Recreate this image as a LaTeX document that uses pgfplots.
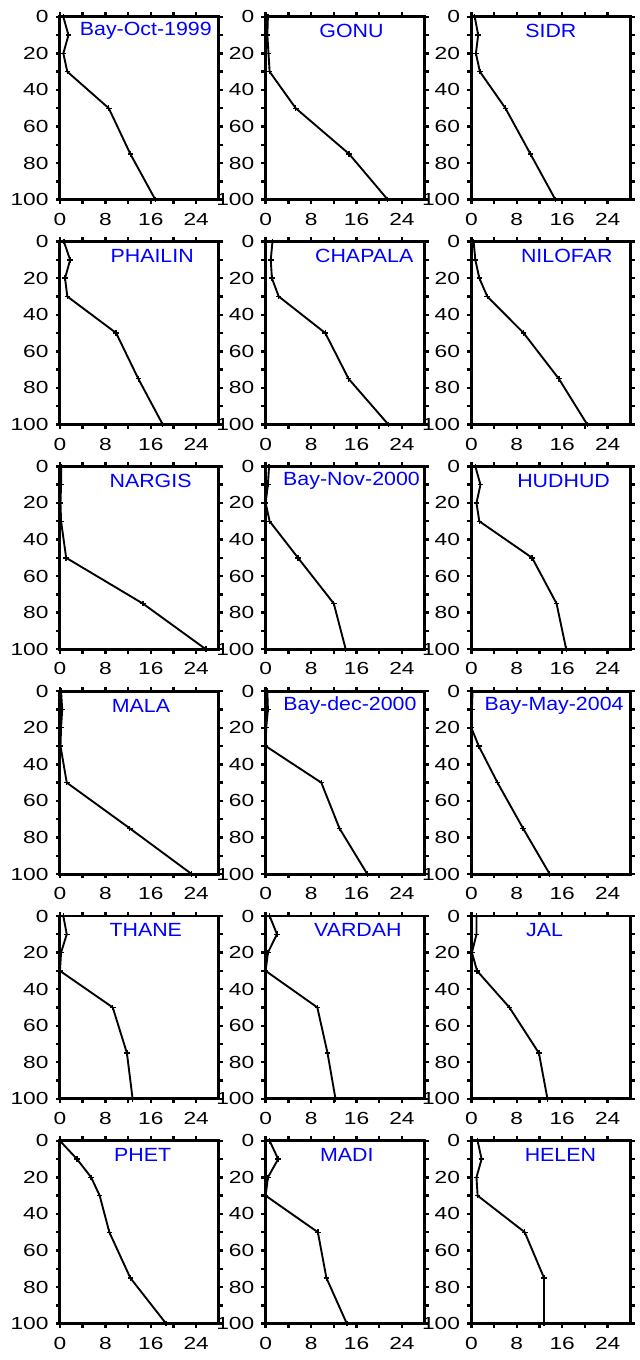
\documentclass[border=2pt]{standalone}
\usepackage{fontspec}
\setmainfont{Liberation Sans}
\newfontfamily\tickfont[FakeStretch=1.3]{Liberation Sans}
\newfontfamily\titlefont[FakeStretch=1.12]{Liberation Sans}
\usepackage{pgfplots}
\pgfplotsset{compat=1.18}

\pgfplotsset{
  prof/.style={
    scale only axis, width=80pt, height=92pt,
    xmin=0, xmax=28, ymin=0, ymax=100, y dir=reverse,
    xtick={0,8,16,24}, minor xtick={4,12,20},
    ytick={0,20,...,100}, minor ytick={10,30,...,90},
    tick align=outside, major tick length=2.2pt, minor tick length=2.2pt,
    tick style={line width=1.2pt, black},
    axis line style={line width=1.5pt},
    ticklabel style={font=\tickfont\fontsize{8.8}{9}\selectfont},
    xticklabel style={yshift=-1pt},
    /pgf/number format/assume math mode=true,
    anchor=north west, clip=false,
  },
  dat/.style={black, line width=0.95pt, mark=+, mark size=1.4pt, mark options={line width=0.7pt}},
}
% title inside the panel, #1 = horizontal position
\newcommand{\ttl}[2]{\node[text=blue, font=\titlefont\fontsize{9.6}{10}\selectfont] at (axis description cs:#1,0.922) {#2};}

\begin{document}
\begin{tikzpicture}
% ---- row 1
\begin{axis}[prof, at={(0pt,0pt)}]
\addplot[dat] coordinates {(0.6,0) (1.5,10) (0.6,20) (1.3,30) (8.6,50) (12.4,75) (16.8,100)};
\ttl{0.54}{Bay-Oct-1999}
\end{axis}
\begin{axis}[prof, at={(103.5pt,0pt)}]
\addplot[dat] coordinates {(0.4,0) (0.3,10) (0.5,20) (0.7,30) (5.3,50) (14.7,75) (21.5,100)};
\ttl{0.54}{GONU}
\end{axis}
\begin{axis}[prof, at={(207pt,0pt)}]
\addplot[dat] coordinates {(0.6,0) (1.2,10) (0.8,20) (1.5,30) (6.0,50) (10.4,75) (14.8,100)};
\ttl{0.50}{SIDR}
\end{axis}
% ---- row 2
\begin{axis}[prof, at={(0pt,-113.1pt)}]
\addplot[dat] coordinates {(0.7,0) (1.8,10) (0.9,20) (1.3,30) (9.9,50) (13.8,75) (18.1,100)};
\ttl{0.58}{PHAILIN}
\end{axis}
\begin{axis}[prof, at={(103.5pt,-113.1pt)}]
\addplot[dat] coordinates {(1.2,0) (0.9,10) (1.1,20) (2.3,30) (10.5,50) (14.6,75) (21.6,100)};
\ttl{0.62}{CHAPALA}
\end{axis}
\begin{axis}[prof, at={(207pt,-113.1pt)}]
\addplot[dat] coordinates {(0.4,0) (0.7,10) (1.4,20) (2.8,30) (9.2,50) (15.4,75) (20.4,100)};
\ttl{0.60}{NILOFAR}
\end{axis}
% ---- row 3
\begin{axis}[prof, at={(0pt,-226.2pt)}]
\addplot[dat] coordinates {(0.2,0) (0.2,10) (0.1,20) (0.2,30) (1.1,50) (14.6,75) (25.7,100)};
\ttl{0.57}{NARGIS}
\end{axis}
\begin{axis}[prof, at={(103.5pt,-226.2pt)}]
\addplot[dat] coordinates {(0.6,0) (0.4,10) (0.0,20) (0.7,30) (5.7,50) (12.0,75) (14.1,100)};
\ttl{0.54}{Bay-Nov-2000}
\end{axis}
\begin{axis}[prof, at={(207pt,-226.2pt)}]
\addplot[dat] coordinates {(0.7,0) (1.6,10) (0.9,20) (1.4,30) (10.7,50) (15.0,75) (16.7,100)};
\ttl{0.58}{HUDHUD}
\end{axis}
% ---- row 4
\begin{axis}[prof, at={(0pt,-339.3pt)}]
\addplot[dat] coordinates {(0.2,0) (0.4,10) (0.2,20) (0.1,30) (1.2,50) (12.3,75) (23.2,100)};
\ttl{0.51}{MALA}
\end{axis}
\begin{axis}[prof, at={(103.5pt,-339.3pt)}]
\addplot[dat] coordinates {(0.3,0) (0.4,10) (0.1,20) (0.0,30) (9.8,50) (13.0,75) (17.9,100)};
\ttl{0.53}{Bay-dec-2000}
\end{axis}
\begin{axis}[prof, at={(207pt,-339.3pt)}]
\addplot[dat] coordinates {(0.2,0) (0.1,10) (0.0,20) (1.3,30) (4.6,50) (9.1,75) (13.8,100)};
\ttl{0.52}{Bay-May-2004}
\end{axis}
% ---- row 5
\begin{axis}[prof, at={(0pt,-452.4pt)}]
\addplot[dat] coordinates {(0.6,0) (1.2,10) (0.2,20) (0.0,30) (9.3,50) (11.8,75) (12.8,100)};
\ttl{0.54}{THANE}
\end{axis}
\begin{axis}[prof, at={(103.5pt,-452.4pt)}]
\addplot[dat] coordinates {(0.7,0) (2.0,10) (0.4,20) (0.0,30) (9.1,50) (10.9,75) (12.3,100)};
\ttl{0.58}{VARDAH}
\end{axis}
\begin{axis}[prof, at={(207pt,-452.4pt)}]
\addplot[dat] coordinates {(0.9,0) (0.9,10) (0.1,20) (1.0,30) (6.7,50) (11.9,75) (13.4,100)};
\ttl{0.46}{JAL}
\end{axis}
% ---- row 6
\begin{axis}[prof, at={(0pt,-565.5pt)}]
\addplot[dat] coordinates {(0.0,0) (3.0,10) (5.5,20) (7.0,30) (8.7,50) (12.4,75) (18.7,100)};
\ttl{0.52}{PHET}
\end{axis}
\begin{axis}[prof, at={(103.5pt,-565.5pt)}]
\addplot[dat] coordinates {(0.7,0) (2.2,10) (0.4,20) (0.0,30) (9.2,50) (10.7,75) (14.3,100)};
\ttl{0.51}{MADI}
\end{axis}
\begin{axis}[prof, at={(207pt,-565.5pt)}]
\addplot[dat] coordinates {(1.1,0) (1.8,10) (0.9,20) (1.1,30) (9.4,50) (12.8,75) (12.8,100)};
\ttl{0.56}{HELEN}
\end{axis}
\end{tikzpicture}
\end{document}
